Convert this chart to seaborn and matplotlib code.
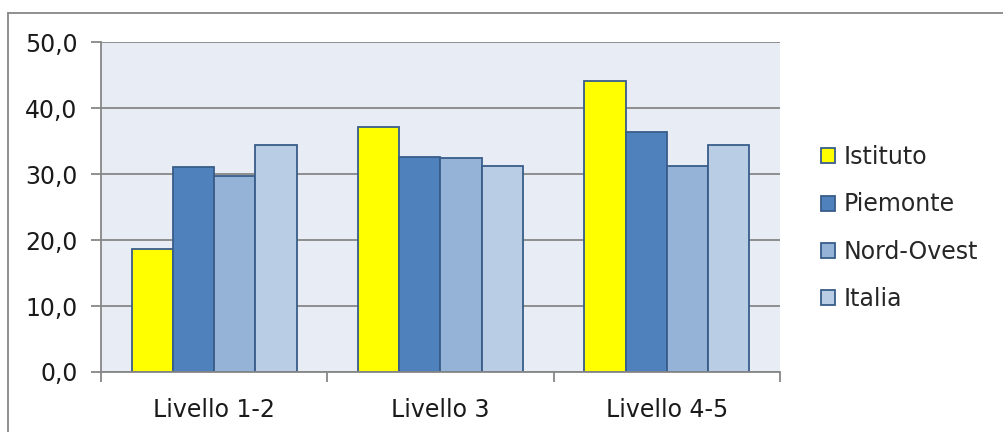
import pandas as pd
import matplotlib.pyplot as plt
import seaborn as sns
from matplotlib.lines import Line2D

livelli = ['Livello 1-2', 'Livello 3', 'Livello 4-5']
gruppi = ['Istituto', 'Piemonte', 'Nord-Ovest', 'Italia']
istituto = [18.7, 37.2, 44.1]
piemonte = [31.1, 32.6, 36.4]
nord_ovest = [29.7, 32.4, 31.2]
italia = [34.4, 31.2, 34.4]
y_ticks = [0, 10, 20, 30, 40, 50]
y_labels = ['0,0', '10,0', '20,0', '30,0', '40,0', '50,0']

colori = ['#FFFF00', '#4F81BD', '#95B3D7', '#B9CDE5']

rows = []
for nome, vals in zip(gruppi, [istituto, piemonte, nord_ovest, italia]):
    for liv, v in zip(livelli, vals):
        rows.append({'Livello': liv, 'Gruppo': nome, 'Valore': v})
df = pd.DataFrame(rows)

sns.set_style('white')
plt.rcParams['font.family'] = ['DejaVu Sans']

fs = 17

fig = plt.figure(figsize=(10.04, 4.32), dpi=100)
ax = fig.add_axes([101 / 1004, 60 / 432, 679 / 1004, 329.5 / 432])
ax.set_facecolor('#E8ECF4')

sns.barplot(data=df, x='Livello', y='Valore', hue='Gruppo', hue_order=gruppi,
            palette=colori, width=0.73, edgecolor='#385D8A', linewidth=1.3,
            saturation=1, ax=ax)

ax.set_ylim(0, 50)
ax.set_xlim(-0.5, 2.5)
ax.set_yticks(y_ticks)
ax.set_yticklabels(y_labels, fontsize=fs, color='#1a1a1a')
ax.yaxis.grid(True, color='#878787', linewidth=1.3)
ax.set_axisbelow(True)
ax.tick_params(axis='y', left=True, length=7, width=1.3, color='#878787', pad=10)
ax.tick_params(axis='x', which='major', bottom=True, length=0, labelsize=fs,
               labelcolor='#1a1a1a', pad=19)
ax.set_xticks([-0.5, 0.5, 1.5, 2.5], minor=True)
ax.tick_params(axis='x', which='minor', bottom=True, length=7, width=1.3, color='#878787')
for s in ['top', 'right']:
    ax.spines[s].set_visible(False)
for s in ['left', 'bottom']:
    ax.spines[s].set_color('#878787')
    ax.spines[s].set_linewidth(1.3)
ax.set_xlabel('')
ax.set_ylabel('')

handles, labels = ax.get_legend_handles_labels()
ax.legend(handles, labels, loc='center left', bbox_to_anchor=(821 / 1004, 1 - 228 / 432),
          bbox_transform=fig.transFigure, frameon=False, fontsize=fs,
          handlelength=0.6, handleheight=0.6, handletextpad=0.35,
          labelspacing=0.98, borderaxespad=0, borderpad=0)

# bordo esterno del grafico
fig.add_artist(Line2D([8 / 1004, 1.0], [1 - 13 / 432, 1 - 13 / 432],
                      color='#878787', linewidth=1.3, transform=fig.transFigure))
fig.add_artist(Line2D([8 / 1004, 8 / 1004], [0, 1 - 13 / 432],
                      color='#878787', linewidth=1.3, transform=fig.transFigure))

fig.savefig('out.png', dpi=100)
